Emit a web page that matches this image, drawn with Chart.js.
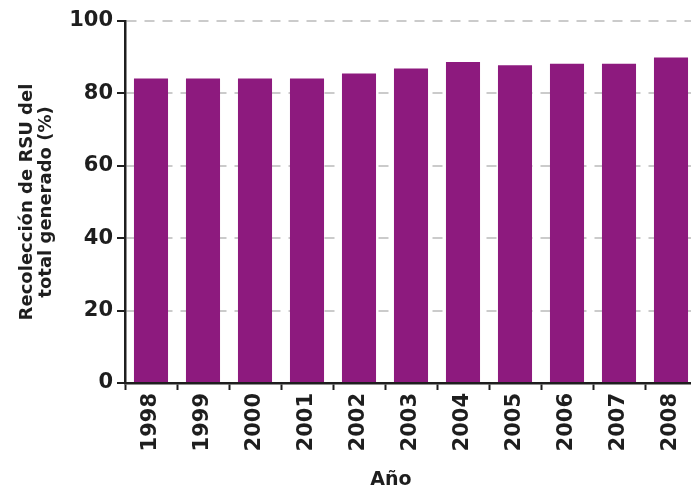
<!DOCTYPE html>
<html>
<head>
<meta charset="utf-8">
<script src="https://cdn.jsdelivr.net/npm/chart.js@4"></script>
<style>
  html, body { margin: 0; padding: 0; background: #fff; overflow: hidden; }
  #wrap { width: 691px; height: 491px; overflow: hidden; }
</style>
</head>
<body>
<div id="wrap"><canvas id="myChart" width="700" height="491"></canvas></div>
<script>
const years = ['1998', '1999', '2000', '2001', '2002', '2003', '2004', '2005', '2006', '2007', '2008'];
const recoleccion = [84.1, 84.1, 84.1, 84.1, 85.5, 86.9, 88.7, 87.8, 88.2, 88.2, 89.9];
const yTicks = [0, 20, 40, 60, 80, 100];
const yTitle = ['Recolección de RSU del', 'total generado (%)'];
const xTitle = 'Año';

const font = 'DejaVu Sans';
const ink = '#1e1e1e';

// "Año" sits a little left of the plot centre in the original
const xTitlePlugin = {
    id: 'xTitle',
    afterDraw(chart) {
        const { ctx, chartArea } = chart;
        ctx.save();
        ctx.font = 'bold 19px "' + font + '"';
        ctx.fillStyle = ink;
        ctx.textAlign = 'center';
        ctx.textBaseline = 'middle';
        ctx.fillText(xTitle, (chartArea.left + chartArea.right) / 2 - 20, chartArea.bottom + 97);
        ctx.restore();
    }
};

const ctx = document.getElementById('myChart').getContext('2d');
const chart = new Chart(ctx, {
    type: 'bar',
    data: {
        labels: years,
        datasets: [{
            data: recoleccion,
            backgroundColor: '#8d1a7e',
            borderWidth: 0,
            categoryPercentage: 1,
            barPercentage: 0.655
        }]
    },
    options: {
        responsive: false,
        animation: false,
        layout: { padding: { top: 21, right: 3, left: 0, bottom: 0 } },
        plugins: {
            legend: { display: false },
            tooltip: { enabled: false }
        },
        scales: {
            x: {
                offset: true,
                grid: {
                    offset: true,
                    drawOnChartArea: false,
                    drawTicks: true,
                    tickLength: 7,
                    tickColor: ink,
                    tickWidth: 2
                },
                border: { display: true, color: ink, width: 2.5 },
                ticks: {
                    color: ink,
                    font: { family: font, size: 21, weight: 'bold' },
                    minRotation: 90,
                    maxRotation: 90,
                    padding: 3,
                    autoSkip: false
                },
                afterFit(scale) { scale.height = 108; }
            },
            y: {
                min: 0,
                max: 100,
                afterBuildTicks(scale) { scale.ticks = yTicks.map(v => ({ value: v })); },
                grid: {
                    color: ctx => ctx.tick && ctx.tick.value === 0 ? 'rgba(0,0,0,0)' : '#cbcbcb',
                    lineWidth: 2,
                    tickColor: ink,
                    tickWidth: 2,
                    tickLength: 8,
                    tickBorderDash: []
                },
                border: { display: true, color: ink, width: 2.5, dash: [10, 8] },
                ticks: {
                    color: ink,
                    font: { family: font, size: 21, weight: 'bold' },
                    padding: 4
                },
                title: {
                    display: true,
                    text: yTitle,
                    color: ink,
                    font: { family: font, size: 18, weight: 'bold', lineHeight: 1.1 },
                    padding: { top: 17, bottom: 0 }
                },
                afterFit(scale) { scale.width = 125; }
            }
        }
    },
    plugins: [xTitlePlugin]
});
</script>
</body>
</html>
